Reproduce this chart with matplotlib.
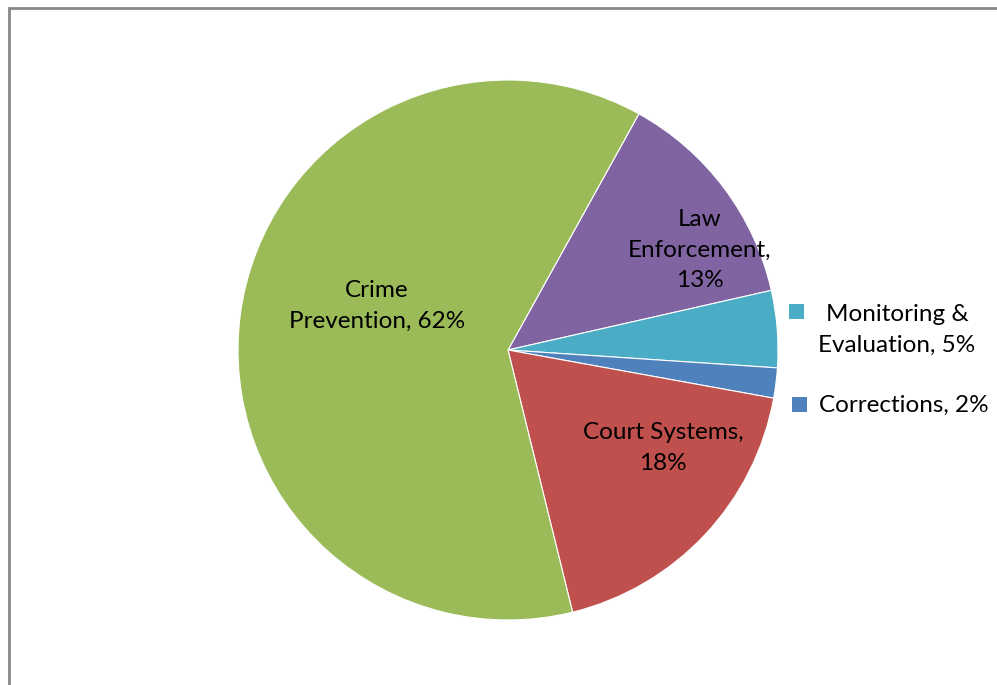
import matplotlib
matplotlib.use("Agg")
import matplotlib.pyplot as plt
from matplotlib.patches import Rectangle

categories = ["Law Enforcement", "Monitoring & Evaluation", "Corrections", "Court Systems", "Crime Prevention"]
values = [13.4, 4.6, 1.8, 18.3, 61.9]
colors = ["#8064A2", "#4BACC6", "#4F81BD", "#C0504D", "#9BBB59"]

W, H = 997, 685
fig = plt.figure(figsize=(W / 100, H / 100), dpi=100)
fig.patch.set_facecolor("white")

# chart border (only left/top visible)
fig.add_artist(Rectangle((8.5 / W, -0.1), 1.2, (H - 8.5) / H + 0.1, transform=fig.transFigure,
                         fill=False, edgecolor="#878787", linewidth=2))

cx, cy, R = 508, 350, 270
ax = fig.add_axes([(cx - R) / W, (H - cy - R) / H, 2 * R / W, 2 * R / H])
wedges, _ = ax.pie(values, colors=colors, startangle=61, counterclock=False,
                   wedgeprops=dict(edgecolor="white", linewidth=0.8))
ax.set_xlim(-1, 1)
ax.set_ylim(-1, 1)
ax.set_aspect("equal")
ax.axis("off")

font = dict(family=["Lato", "DejaVu Sans"], fontsize=17.5, color="black", linespacing=1.55)
pct = [f"{round(v)}%" for v in values]

inside = {
    "Law Enforcement": ("Law\nEnforcement,\n" + pct[0], (0.711, 0.370)),
    "Court Systems": ("Court Systems,\n" + pct[3], (0.574, -0.363)),
    "Crime Prevention": ("Crime\nPrevention, " + pct[4], (-0.485, 0.163)),
}
for name, (txt, (x, y)) in inside.items():
    ax.text(x, y, txt, ha="center", va="center", **font)

# outside labels with colored keys
outside = [
    ("Monitoring &\nEvaluation, " + pct[1], colors[1], (1.441, 0.074), (1.067, 0.141)),
    ("Corrections, " + pct[2], colors[2], (1.467, -0.204), (1.078, -0.200)),
]
for txt, col, (x, y), (mx, my) in outside:
    ax.text(x, y, txt, ha="center", va="center", clip_on=False, **font)
    s = 15 / R
    ax.add_patch(Rectangle((mx - s / 2, my - s / 2), s, s, facecolor=col, edgecolor="none", clip_on=False))

fig.savefig("out.png", dpi=100)
